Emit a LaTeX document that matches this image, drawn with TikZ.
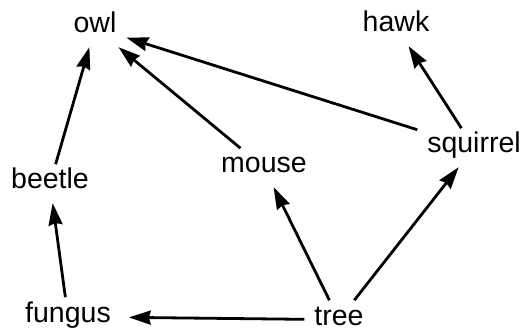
\documentclass[tikz,border=0pt]{standalone}
\usepackage{fontspec}
\setmainfont{Liberation Sans}
\usepackage{tikz}
\usepackage{tkz-graph}
\usetikzlibrary{arrows.meta}

\begin{document}
\begin{tikzpicture}[x=0.5pt,y=-0.5pt]
            \useasboundingbox (0,0) rectangle (524,331);
            \GraphInit[vstyle=Normal];
            \tikzset{VertexStyle/.style={shape=rectangle,draw=none,fill=none,anchor=base,
                inner sep=5pt,text height=0.74em,text depth=0.21em,
                font=\fontsize{14.25}{17}\selectfont}}
            \tikzset{EdgeStyle/.style={draw=black,line width=1.4pt,
                -{Stealth[length=11pt,width=7pt,inset=1pt]}}}

            \Vertex[x=95,y=33]{owl};
            \Vertex[x=396,y=32]{hawk};
            \Vertex[x=474,y=153]{squirrel};
            \Vertex[x=264,y=173]{mouse};
            \Vertex[x=50,y=189]{beetle};
            \Vertex[x=68,y=322]{fungus};
            \Vertex[x=339,y=325]{tree};

            \Edge(beetle)(owl)
            \Edge(fungus)(beetle)
            \Edge(mouse)(owl)
            \Edge(squirrel)(owl)
            \Edge(squirrel)(hawk)
            \Edge(tree)(mouse)
            \Edge(tree)(squirrel)
            \Edge[style={shorten >=4pt}](tree)(fungus)
          \end{tikzpicture}
\end{document}
